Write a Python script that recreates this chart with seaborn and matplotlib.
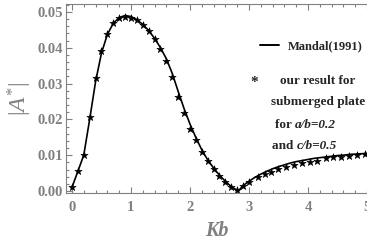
import matplotlib
matplotlib.use('Agg')
import matplotlib.pyplot as plt
from matplotlib.ticker import MultipleLocator
import pandas as pd
import seaborn as sns

sns.set_style('ticks')
plt.rcParams['font.family'] = ['Liberation Serif', 'DejaVu Serif']
plt.rcParams['mathtext.fontset'] = 'custom'
plt.rcParams['mathtext.rm'] = 'Liberation Serif'
plt.rcParams['mathtext.it'] = 'Liberation Serif:italic'

GREY = '#808080'

# Mandal (1991) curve
kb_line = [0.0, 0.1, 0.2, 0.3, 0.4, 0.5, 0.6, 0.7, 0.8, 0.9, 1.0,
           1.1, 1.2, 1.3, 1.4, 1.5, 1.6, 1.7, 1.8, 1.9, 2.0,
           2.1, 2.2, 2.3, 2.4, 2.5, 2.6, 2.7, 2.8, 2.82, 2.9, 3.0,
           3.1, 3.2, 3.3, 3.4, 3.5, 3.6, 3.7, 3.8, 3.9, 4.0,
           4.1, 4.2, 4.3, 4.4, 4.5, 4.6, 4.7, 4.8, 4.9, 5.0]
a_line = [0.0010, 0.0055, 0.0100, 0.0200, 0.0305, 0.0385, 0.0437, 0.0468,
          0.0484, 0.0490, 0.0487, 0.0478, 0.0465, 0.0448, 0.0426, 0.0400,
          0.0369, 0.0328, 0.0278, 0.0230, 0.0187, 0.0149, 0.0115, 0.0087,
          0.0064, 0.0044, 0.0027, 0.0012, 0.0002, 0.0000, 0.0015, 0.0027,
          0.0038, 0.0047, 0.0055, 0.0062, 0.0068, 0.0073, 0.0078, 0.0082,
          0.0085, 0.0088, 0.0091, 0.0093, 0.0095, 0.0097, 0.0099, 0.0100,
          0.0102, 0.0103, 0.0104, 0.0105]

# our result (stars)
kb_star = [0.0, 0.1, 0.2, 0.3, 0.4, 0.5, 0.6, 0.7, 0.8, 0.9, 1.0,
           1.1, 1.2, 1.3, 1.4, 1.5, 1.6, 1.7, 1.8, 1.9, 2.0,
           2.1, 2.2, 2.3, 2.4, 2.5, 2.6, 2.7, 2.8, 2.9, 3.0,
           3.15, 3.27, 3.38, 3.5, 3.62, 3.76, 3.89, 4.03, 4.16, 4.3,
           4.43, 4.56, 4.69, 4.83, 4.96]
a_star = [0.0011, 0.0057, 0.0100, 0.0207, 0.0316, 0.0392, 0.0439, 0.0470,
          0.0482, 0.0487, 0.0483, 0.0476, 0.0464, 0.0447, 0.0424, 0.0397,
          0.0364, 0.0319, 0.0263, 0.0217, 0.0174, 0.0141, 0.0110, 0.0084,
          0.0061, 0.0042, 0.0024, 0.0010, 0.0003, 0.0014, 0.0024, 0.0040,
          0.0047, 0.0054, 0.0061, 0.0066, 0.0073, 0.0077, 0.0082, 0.0085,
          0.0091, 0.0094, 0.0096, 0.0099, 0.0101, 0.0103]

line_df = pd.DataFrame({'Kb': kb_line, 'A': a_line})
star_df = pd.DataFrame({'Kb': kb_star, 'A': a_star})

fig = plt.figure(figsize=(3.67, 2.44), dpi=100)
ax = fig.add_axes([0.180, 0.209, 0.820, 0.775])

sns.lineplot(data=line_df, x='Kb', y='A', ax=ax, color='black',
             linewidth=1.2, sort=False)
sns.scatterplot(data=star_df, x='Kb', y='A', ax=ax, marker='*',
                color='black', s=30, linewidth=0.4, edgecolor='black')

ax.set_xlim(-0.1, 5.0)
ax.set_ylim(-0.00056, 0.05223)

# Mathematica style frame: grey, inward ticks, ticks on top too
ax.xaxis.set_major_locator(MultipleLocator(1))
ax.xaxis.set_minor_locator(MultipleLocator(0.2))
ax.yaxis.set_major_locator(MultipleLocator(0.01))
ax.yaxis.set_minor_locator(MultipleLocator(0.002))
ax.yaxis.set_major_formatter(lambda v, p: '{:.2f}'.format(v))
ax.tick_params(which='both', direction='in', top=True, right=False,
               color=GREY, width=0.8)
ax.tick_params(which='major', length=4)
ax.tick_params(which='minor', length=2)
ax.tick_params(axis='x', which='major', pad=6)
ax.tick_params(axis='y', which='major', pad=2)
for lab in ax.get_xticklabels() + ax.get_yticklabels():
    lab.set_fontweight('bold')
    lab.set_fontsize(10.5)
    lab.set_color(GREY)
for side in ['left', 'bottom', 'top']:
    ax.spines[side].set_color(GREY)
    ax.spines[side].set_linewidth(0.8)
ax.spines['right'].set_visible(False)

ax.set_xlabel('Kb', fontsize=14.5, fontweight='bold', fontstyle='italic',
              color=GREY, labelpad=5)
ax.set_ylabel(r'$|A^{*}|$', fontsize=17, color=GREY, labelpad=3)

# Hand-made legend
fig.add_artist(plt.Line2D([0.708, 0.760], [0.816, 0.816], color='black',
                          linewidth=1.4))
fig.text(0.783, 0.812, 'Mandal(1991)', fontsize=9, fontweight='bold',
         va='center', ha='left')
fig.text(0.692, 0.662, '*', fontsize=11, fontweight='bold', va='center',
         ha='center')
fig.text(0.866, 0.670, 'our result for', fontsize=9.5, fontweight='bold',
         va='center', ha='center')
fig.text(0.866, 0.580, 'submerged plate', fontsize=9.5, fontweight='bold',
         va='center', ha='center')
t1 = fig.text(0.748, 0.477, 'for ', fontsize=9.5, fontweight='bold',
              va='baseline', ha='left')
ax.annotate('a/b=0.2', xy=(1, 0), xycoords=t1, va='bottom', ha='left',
            fontsize=9.5, fontweight='bold', fontstyle='italic')
t2 = fig.text(0.742, 0.389, 'and ', fontsize=9.5, fontweight='bold',
              va='baseline', ha='left')
ax.annotate('c/b=0.5', xy=(1, 0), xycoords=t2, va='bottom', ha='left',
            fontsize=9.5, fontweight='bold', fontstyle='italic')

plt.savefig('out.png', dpi=100)
plt.close('all')
